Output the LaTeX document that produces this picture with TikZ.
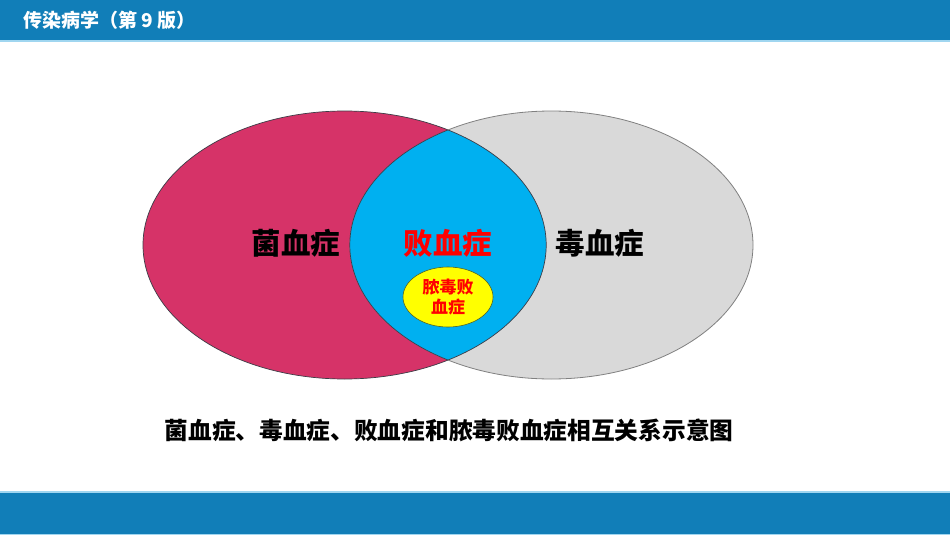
\documentclass[tikz,border=0pt]{standalone}
\usepackage{fontspec}
\setmainfont{Noto Sans CJK SC}
\usetikzlibrary{shapes.geometric}
\definecolor{barblue}{RGB}{17,126,184}
\definecolor{barline}{RGB}{160,214,240}
\definecolor{vpink}{RGB}{214,51,104}
\definecolor{vgray}{RGB}{217,217,217}
\definecolor{vblue}{RGB}{0,176,240}
\definecolor{vyellow}{RGB}{255,255,0}
\definecolor{vred}{RGB}{255,0,0}
\definecolor{edgegray}{RGB}{128,128,128}
\definecolor{edgedark}{RGB}{60,60,70}
\definecolor{edgegreen}{RGB}{80,100,40}
\tikzset{
  setellipse/.style={ellipse, inner sep=0pt, minimum width=403.2pt, minimum height=268pt},
  bigtext/.style={font=\fontsize{29.5}{31}\selectfont\bfseries, inner sep=0pt},
  smalltext/.style={font=\fontsize{17}{20}\selectfont\bfseries, text=vred, align=center, inner sep=0pt},
}
\begin{document}
\begin{tikzpicture}[x=1pt,y=-1pt]
\useasboundingbox (0,0) rectangle (950,535);
\fill[white] (0,0) rectangle (950,535);
% header and footer bars
\fill[barblue] (0,0) rectangle (950,40);
\fill[barline] (0,40) rectangle (950,42);
\fill[barline] (0,491) rectangle (950,493);
\fill[barblue] (0,493) rectangle (950,534);
\fill[barline] (0,534) rectangle (950,535);
\node[anchor=west, text=white, font=\fontsize{19}{22}\selectfont\bfseries, inner sep=0pt] (title) at (23,20) {传染病学（第 9 版）};
% ellipses
\node[setellipse, fill=vpink] (L) at (344.6,245) {};
\node[setellipse, fill=vgray] (R) at (551.4,245) {};
\begin{scope}
  \clip (344.6,245) ellipse [x radius=201.6pt, y radius=134pt];
  \fill[vblue] (551.4,245) ellipse [x radius=201.6pt, y radius=134pt];
\end{scope}
\draw[edgedark, line width=0.7pt] (344.6,245) ellipse [x radius=201.6pt, y radius=134pt];
\begin{scope}
  \clip (344.6,245) ellipse [x radius=201.6pt, y radius=134pt];
  \draw[edgedark, line width=0.7pt] (551.4,245) ellipse [x radius=201.6pt, y radius=134pt];
\end{scope}
\begin{scope}[even odd rule]
  \clip (0,0) rectangle (950,535) (344.6,245) ellipse [x radius=201.6pt, y radius=134pt];
  \draw[edgegray, line width=0.8pt] (551.4,245) ellipse [x radius=201.6pt, y radius=134pt];
\end{scope}
% labels
\node[bigtext, text=black] (bac) at (296,243) {菌血症};
\node[bigtext, text=vred] (sep) at (448,243) {败血症};
\node[bigtext, text=black] (tox) at (600,243) {毒血症};
\node[ellipse, inner sep=0pt, minimum width=90pt, minimum height=60pt, fill=vyellow, draw=edgegreen, line width=0.6pt] (Y) at (448,297) {};
\node[smalltext] (pyo) at (448,297) {脓毒败\\血症};
% caption
\node[font=\fontsize{23.7}{26}\selectfont\bfseries, inner sep=0pt] (cap) at (449,430) {菌血症、毒血症、败血症和脓毒败血症相互关系示意图};
\end{tikzpicture}
\end{document}
